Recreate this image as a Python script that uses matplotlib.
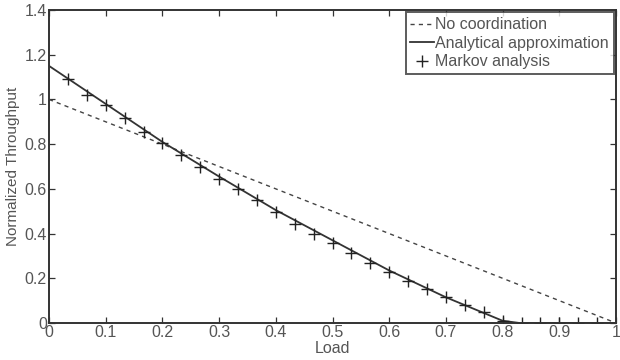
import matplotlib
matplotlib.use("Agg")
import matplotlib.pyplot as plt
import numpy as np

plt.rcParams['font.family'] = ['Liberation Sans', 'DejaVu Sans']

# No coordination (straight dashed line)
nc_x = [0.0, 1.0]
nc_y = [1.0, 0.0]

# Analytical approximation
an_x = [0.0, 0.1, 0.2, 0.3, 0.4, 0.5, 0.6, 0.7, 0.8, 0.83, 1.0]
an_y = [1.15, 0.98, 0.81, 0.655, 0.505, 0.37, 0.235, 0.115, 0.01, 0.0, 0.0]

# Markov analysis
mk_x = [k / 30 for k in range(1, 31)]
mk_y = [1.09, 1.02, 0.975, 0.915, 0.855, 0.805, 0.75, 0.70, 0.645, 0.60,
        0.55, 0.495, 0.445, 0.40, 0.358, 0.313, 0.268, 0.228, 0.188, 0.152,
        0.118, 0.08, 0.048, 0.01, 0.0, 0.0, 0.0, 0.0, 0.0, 0.0]

xticks = [0, 0.1, 0.2, 0.3, 0.4, 0.5, 0.6, 0.7, 0.8, 0.9, 1]
xtick_labels = ['0', '0.1', '0.2', '0.3', '0.4', '0.5', '0.6', '0.7', '0.8', '0.9', '1']
yticks = [0, 0.2, 0.4, 0.6, 0.8, 1.0, 1.2, 1.4]
ytick_labels = ['0', '0.2', '0.4', '0.6', '0.8', '1', '1.2', '1.4']

fig = plt.figure(figsize=(6.2, 3.6), dpi=100)
ax = fig.add_axes([49 / 620, 1 - 323 / 360, (616 - 49) / 620, (323 - 10) / 360])

ax.plot(nc_x, nc_y, linestyle=(0, (3, 3)), color='#444444', lw=1.0, label='No coordination')
ax.plot(an_x, an_y, '-', color='#333333', lw=1.3, label='Analytical approximation')
ax.plot(mk_x, mk_y, '+', color='#222222', ms=9, mew=1.0, linestyle='none', label='Markov analysis')

ax.set_xlim(0, 1)
ax.set_ylim(0, 1.4)
ax.set_xticks(xticks)
ax.set_xticklabels(xtick_labels)
ax.set_yticks(yticks)
ax.set_yticklabels(ytick_labels)
ax.tick_params(direction='in', top=True, right=True, length=4, width=0.9,
               labelsize=11.5, colors='#333333', labelcolor='#555555', pad=1.5)
for s in ax.spines.values():
    s.set_linewidth(1.4)
    s.set_color('#333333')

ax.set_xlabel('Load', fontsize=11.5, color='#555555', labelpad=0.5)
ax.set_ylabel('Normalized Throughput', fontsize=11, color='#555555', labelpad=3)

leg = ax.legend(loc='upper right', fontsize=11.5, frameon=True, fancybox=False,
                borderpad=0.3, labelspacing=0.22, handlelength=1.45, handletextpad=0.1,
                borderaxespad=0.15, edgecolor='#333333')
leg.get_frame().set_linewidth(1.4)
for t in leg.get_texts():
    t.set_color('#555555')

fig.savefig('out.png', dpi=100)
